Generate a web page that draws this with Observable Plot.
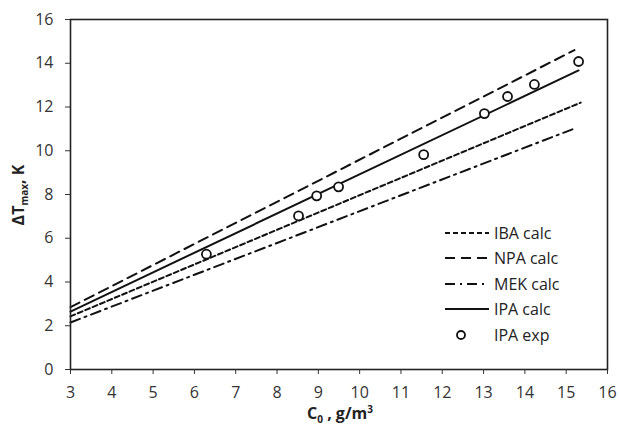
<!DOCTYPE html>
<html><head><meta charset="utf-8">
<script src="https://cdn.jsdelivr.net/npm/d3@7"></script>
<script src="https://cdn.jsdelivr.net/npm/@observablehq/plot@0.6"></script>
<style>
body{margin:0;background:#fff;}
#wrap{position:relative;width:619px;height:427px;font-family:"Open Sans",sans-serif;}
#legend{position:absolute;left:443px;top:220px;font-size:16px;color:#222;}
#legend .row{display:flex;align-items:center;height:25.5px;}
#legend svg{width:48px;height:12px;margin-right:3px;}
</style>
</head><body>
<div id="wrap"><div id="legend"></div></div>
<script>
const series = ["IBA calc","NPA calc","MEK calc","IPA calc"];
const lineX0 = [3, 3, 3, 3];
const lineX1 = [15.35, 15.2, 15.15, 15.3];
const lineY0 = [2.43, 2.85, 2.15, 2.65];
const lineY1 = [12.2, 14.6, 10.98, 13.67];
const dashes = ["5,3", "10,6", "10,5,2,5", null];

const expX = [6.29, 8.52, 8.96, 9.49, 11.55, 13.02, 13.58, 14.23, 15.3];
const expY = [5.27, 7.02, 7.94, 8.35, 9.82, 11.7, 12.48, 13.03, 14.08];

const xTicks = [3,4,5,6,7,8,9,10,11,12,13,14,15,16];
const yTicks = [0,2,4,6,8,10,12,14,16];

const lines = series.map((s,i)=>[{s,x:lineX0[i],y:lineY0[i]},{s,x:lineX1[i],y:lineY1[i]}]);
const exp = expX.map((x,i)=>({x,y:expY[i]}));

const plot = Plot.plot({
  width:619, height:427,
  marginLeft:70, marginRight:12, marginTop:19, marginBottom:58,
  style:{fontFamily:"Open Sans, sans-serif", background:"#fff"},
  x:{domain:[3,16]},
  y:{domain:[0,16]},
  marks:[
    ...lines.map((d,i)=>Plot.line(d,{x:"x",y:"y",stroke:"#111",strokeWidth:2,strokeDasharray:dashes[i]})),
    Plot.dot(exp,{x:"x",y:"y",r:4.5,stroke:"#111",strokeWidth:1.8,fill:"#fff"}),
    Plot.frame({stroke:"#222",strokeWidth:1.6}),
    Plot.axisX({ticks:xTicks,tickSize:5,tickPadding:12,fontSize:16,label:null,color:"#333",tickFormat:d=>d}),
    Plot.axisY({ticks:yTicks,tickSize:5,tickPadding:12,fontSize:16,label:null,color:"#333",tickFormat:d=>d})
  ]
});
const wrap = document.getElementById("wrap");
wrap.insertBefore(plot, wrap.firstChild);

// axis titles with sub/superscripts
const svg = d3.select(plot);
const xt = svg.append("text").attr("x",340).attr("y",419).attr("text-anchor","middle")
  .attr("font-size",16).attr("font-weight","bold").attr("fill","#222");
xt.append("tspan").text("C");
xt.append("tspan").attr("font-size",10).attr("dy",4).text("0");
xt.append("tspan").attr("dy",-4).text(" , g/m");
xt.append("tspan").attr("font-size",10).attr("dy",-6).text("3");
const yt = svg.append("text").attr("transform","translate(24,195) rotate(-90)").attr("text-anchor","middle")
  .attr("font-size",16).attr("font-weight","bold").attr("fill","#222");
yt.append("tspan").text("ΔT");
yt.append("tspan").attr("font-size",10).attr("dy",4).text("max");
yt.append("tspan").attr("dy",-4).text(", K");

// legend
const leg = d3.select("#legend");
series.forEach((s,i)=>{
  const r = leg.append("div").attr("class","row");
  const sv = r.append("svg");
  sv.append("line").attr("x1",2).attr("x2",46).attr("y1",6).attr("y2",6).attr("stroke","#111").attr("stroke-width",2)
    .attr("stroke-dasharray",dashes[i]);
  r.append("span").text(s);
});
const r = leg.append("div").attr("class","row");
const sv = r.append("svg");
sv.append("circle").attr("cx",18).attr("cy",6).attr("r",4).attr("stroke","#111").attr("stroke-width",1.8).attr("fill","#fff");
r.append("span").text("IPA exp");
</script>
</body></html>
